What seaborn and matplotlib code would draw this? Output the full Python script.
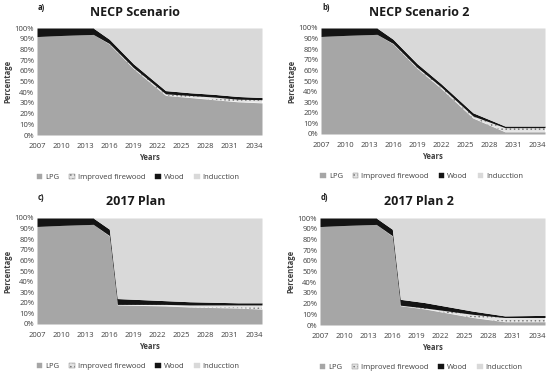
"""
Household cooking fuel shares under four scenarios (stacked areas).
"""

import numpy as np
import matplotlib
matplotlib.use("Agg")
import matplotlib.pyplot as plt
import seaborn as sns
from matplotlib.patches import Patch

sns.set_theme(style="white")
plt.rcParams["font.family"] = ["Open Sans", "DejaVu Sans"]
plt.rcParams["hatch.linewidth"] = 0.6

# ---- data (percent shares) ----
fuels = ["LPG", "Improved firewood", "Wood", "Inducction"]

years_a = [2007, 2010, 2014, 2016, 2019, 2023, 2026, 2029, 2032, 2035]
lpg_a = [92, 93, 94, 85, 62, 37, 35, 33, 31, 30]
impf_a = [0, 0, 0, 0.5, 1, 1.5, 2, 2.5, 2.5, 3]
wood_a = [8, 7, 6, 4, 3.5, 3, 2.5, 2.5, 2.5, 2]

years_b = [2007, 2010, 2014, 2016, 2019, 2022, 2026, 2030, 2035]
lpg_b = [92, 93, 94, 85, 62, 43, 15, 2, 2]
impf_b = [0, 0, 0, 0.5, 1, 1.5, 2, 4, 4]
wood_b = [8, 7, 6, 4, 3.5, 3, 3, 1.5, 1.5]

years_c = [2007, 2010, 2014, 2016, 2017, 2020, 2023, 2026, 2029, 2032, 2035]
lpg_c = [92, 93, 94, 83, 18, 17.5, 17, 16, 15.5, 15, 14]
impf_c = [0, 0, 0, 0.5, 0.5, 1, 1.5, 2, 2.5, 3, 4]
wood_c = [8, 7, 6, 6, 5.5, 4.5, 3.5, 3, 2.5, 2, 2]

years_d = [2007, 2010, 2014, 2016, 2017, 2020, 2023, 2026, 2030, 2035]
lpg_d = [92, 93, 94, 83, 18, 15, 11, 7, 3, 3]
impf_d = [0, 0, 0, 0.5, 0.5, 1, 2, 3, 4, 4]
wood_d = [8, 7, 6, 6, 5.5, 5, 4, 3, 1.5, 2]

panels = [
    ("a)", "NECP Scenario", years_a, lpg_a, impf_a, wood_a),
    ("b)", "NECP Scenario 2", years_b, lpg_b, impf_b, wood_b),
    ("c)", "2017 Plan", years_c, lpg_c, impf_c, wood_c),
    ("d)", "2017 Plan 2", years_d, lpg_d, impf_d, wood_d),
]

colors = ["#a6a6a6", "#e4e4e4", "#141414", "#d9d9d9"]
hatches = [None, "....", None, None]

W, H = 550, 374
fig = plt.figure(figsize=(W / 100, H / 100), dpi=100)
fig.patch.set_facecolor("white")

# pixel boxes: left, top, right, bottom of each plot area
boxes = [(37, 28, 262, 135), (321, 28, 545, 134),
         (37, 218, 262, 324), (320, 218, 545, 325)]
title_y = [12, 12, 201, 201]
text_col = "#404040"

for (lab, title, yrs, lpg, impf, wood), (x0, y0, x1, y1), ty in zip(panels, boxes, title_y):
    ax = fig.add_axes([x0 / W, 1 - y1 / H, (x1 - x0) / W, (y1 - y0) / H])
    lpg, impf, wood = np.array(lpg), np.array(impf), np.array(wood)
    induction = 100 - lpg - impf - wood
    polys = ax.stackplot(yrs, lpg, impf, wood, induction,
                         colors=colors, linewidth=0)
    for p, h in zip(polys, hatches):
        if h:
            p.set_hatch(h)
            p.set_edgecolor("#7a7a7a")
    ax.set_xlim(2007, 2035)
    ax.set_ylim(0, 100)
    ax.set_xticks(range(2007, 2035, 3))
    ax.set_yticks(range(0, 101, 10))
    ax.set_yticklabels([f"{v}%" for v in range(0, 101, 10)])
    ax.tick_params(labelsize=5.5, colors=text_col, length=0)
    ax.tick_params(axis="x", pad=6)
    ax.tick_params(axis="y", pad=2)
    for s in ax.spines.values():
        s.set_visible(False)
    ax.set_xlabel("Years", fontsize=5.5, fontweight="bold", color=text_col, labelpad=2)
    ax.set_ylabel("Percentage", fontsize=5.5, fontweight="bold", color=text_col, labelpad=2)

    # title, panel label and legend placed in figure pixels
    fig.text((x0 + x1) / 2 / W - 14 / W, 1 - ty / H,
             title, ha="center", va="center", fontsize=9, fontweight="bold", color="#1a1a1a")
    fig.text((x0 + 1) / W, 1 - (y0 - 20) / H, lab, ha="left", va="center",
             fontsize=5.5, fontweight="bold", color="#1a1a1a")
    handles = [Patch(facecolor=c, edgecolor="#7a7a7a" if h else c, hatch=h, linewidth=0.3)
               for c, h in zip(colors, hatches)]
    ax.legend(handles, fuels, loc="upper center", bbox_to_anchor=(0.45, -0.3),
              ncol=4, frameon=False, fontsize=5.5, handlelength=0.7, handleheight=0.7,
              handletextpad=0.4, columnspacing=1.3, labelcolor=text_col)

fig.savefig("out.png", dpi=100, facecolor="white")
